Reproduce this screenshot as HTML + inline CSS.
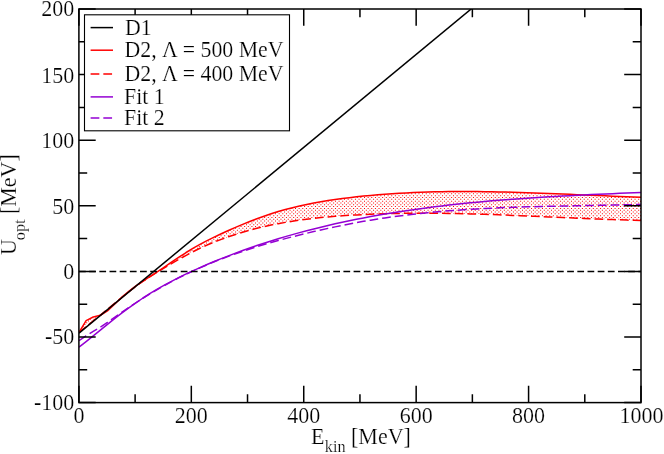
<!DOCTYPE html>
<html><head><meta charset="utf-8"><title>plot</title>
<style>
html,body{margin:0;padding:0;background:#fff;}
body{width:664px;height:454px;position:relative;overflow:hidden;font-family:"Liberation Serif",serif;}
svg{position:absolute;left:0;top:0;display:block;will-change:transform;}
.t{font-family:"Liberation Serif",serif;fill:#000;stroke:#fff;stroke-width:0.2px;}
</style></head><body>
<svg width="664" height="454" viewBox="0 0 664 454"><defs><pattern id="stip" patternUnits="userSpaceOnUse" x="0.00" y="0.00" width="69" height="69"><g fill="#ff0000"><path d="M-0.98,-0.93h1.0v1.0h-1.0zM-0.98,2.70h1.0v1.0h-1.0zM-0.98,6.34h1.0v1.0h-1.0zM-0.98,9.97h1.0v1.0h-1.0zM-0.98,13.60h1.0v1.0h-1.0zM-0.98,17.23h1.0v1.0h-1.0zM-0.98,20.86h1.0v1.0h-1.0zM-0.98,24.50h1.0v1.0h-1.0zM-0.98,28.13h1.0v1.0h-1.0zM-0.98,31.76h1.0v1.0h-1.0zM-0.98,35.39h1.0v1.0h-1.0zM-0.98,39.02h1.0v1.0h-1.0zM-0.98,42.66h1.0v1.0h-1.0zM-0.98,46.29h1.0v1.0h-1.0zM-0.98,49.92h1.0v1.0h-1.0zM-0.98,53.55h1.0v1.0h-1.0zM-0.98,57.18h1.0v1.0h-1.0zM-0.98,60.82h1.0v1.0h-1.0zM-0.98,64.45h1.0v1.0h-1.0zM-0.98,68.08h1.0v1.0h-1.0zM2.66,-0.93h1.0v1.0h-1.0zM0.84,0.89h1.0v1.0h-1.0zM2.66,2.70h1.0v1.0h-1.0zM0.84,4.52h1.0v1.0h-1.0zM2.66,6.34h1.0v1.0h-1.0zM0.84,8.15h1.0v1.0h-1.0zM2.66,9.97h1.0v1.0h-1.0zM0.84,11.78h1.0v1.0h-1.0zM2.66,13.60h1.0v1.0h-1.0zM0.84,15.42h1.0v1.0h-1.0zM2.66,17.23h1.0v1.0h-1.0zM0.84,19.05h1.0v1.0h-1.0zM2.66,20.86h1.0v1.0h-1.0zM0.84,22.68h1.0v1.0h-1.0zM2.66,24.50h1.0v1.0h-1.0zM0.84,26.31h1.0v1.0h-1.0zM2.66,28.13h1.0v1.0h-1.0zM0.84,29.94h1.0v1.0h-1.0zM2.66,31.76h1.0v1.0h-1.0zM0.84,33.58h1.0v1.0h-1.0zM2.66,35.39h1.0v1.0h-1.0zM0.84,37.21h1.0v1.0h-1.0zM2.66,39.02h1.0v1.0h-1.0zM0.84,40.84h1.0v1.0h-1.0zM2.66,42.66h1.0v1.0h-1.0zM0.84,44.47h1.0v1.0h-1.0zM2.66,46.29h1.0v1.0h-1.0zM0.84,48.10h1.0v1.0h-1.0zM2.66,49.92h1.0v1.0h-1.0zM0.84,51.74h1.0v1.0h-1.0zM2.66,53.55h1.0v1.0h-1.0zM0.84,55.37h1.0v1.0h-1.0zM2.66,57.18h1.0v1.0h-1.0zM0.84,59.00h1.0v1.0h-1.0zM2.66,60.82h1.0v1.0h-1.0zM0.84,62.63h1.0v1.0h-1.0zM2.66,64.45h1.0v1.0h-1.0zM0.84,66.26h1.0v1.0h-1.0zM2.66,68.08h1.0v1.0h-1.0zM6.29,-0.93h1.0v1.0h-1.0zM4.47,0.89h1.0v1.0h-1.0zM6.29,2.70h1.0v1.0h-1.0zM4.47,4.52h1.0v1.0h-1.0zM6.29,6.34h1.0v1.0h-1.0zM4.47,8.15h1.0v1.0h-1.0zM6.29,9.97h1.0v1.0h-1.0zM4.47,11.78h1.0v1.0h-1.0zM6.29,13.60h1.0v1.0h-1.0zM4.47,15.42h1.0v1.0h-1.0zM6.29,17.23h1.0v1.0h-1.0zM4.47,19.05h1.0v1.0h-1.0zM6.29,20.86h1.0v1.0h-1.0zM4.47,22.68h1.0v1.0h-1.0zM6.29,24.50h1.0v1.0h-1.0zM4.47,26.31h1.0v1.0h-1.0zM6.29,28.13h1.0v1.0h-1.0zM4.47,29.94h1.0v1.0h-1.0zM6.29,31.76h1.0v1.0h-1.0zM4.47,33.58h1.0v1.0h-1.0zM6.29,35.39h1.0v1.0h-1.0zM4.47,37.21h1.0v1.0h-1.0zM6.29,39.02h1.0v1.0h-1.0zM4.47,40.84h1.0v1.0h-1.0zM6.29,42.66h1.0v1.0h-1.0zM4.47,44.47h1.0v1.0h-1.0zM6.29,46.29h1.0v1.0h-1.0zM4.47,48.10h1.0v1.0h-1.0zM6.29,49.92h1.0v1.0h-1.0zM4.47,51.74h1.0v1.0h-1.0zM6.29,53.55h1.0v1.0h-1.0zM4.47,55.37h1.0v1.0h-1.0zM6.29,57.18h1.0v1.0h-1.0zM4.47,59.00h1.0v1.0h-1.0zM6.29,60.82h1.0v1.0h-1.0zM4.47,62.63h1.0v1.0h-1.0zM6.29,64.45h1.0v1.0h-1.0zM4.47,66.26h1.0v1.0h-1.0zM6.29,68.08h1.0v1.0h-1.0zM9.92,-0.93h1.0v1.0h-1.0zM8.10,0.89h1.0v1.0h-1.0zM9.92,2.70h1.0v1.0h-1.0zM8.10,4.52h1.0v1.0h-1.0zM9.92,6.34h1.0v1.0h-1.0zM8.10,8.15h1.0v1.0h-1.0zM9.92,9.97h1.0v1.0h-1.0zM8.10,11.78h1.0v1.0h-1.0zM9.92,13.60h1.0v1.0h-1.0zM8.10,15.42h1.0v1.0h-1.0zM9.92,17.23h1.0v1.0h-1.0zM8.10,19.05h1.0v1.0h-1.0zM9.92,20.86h1.0v1.0h-1.0zM8.10,22.68h1.0v1.0h-1.0zM9.92,24.50h1.0v1.0h-1.0zM8.10,26.31h1.0v1.0h-1.0zM9.92,28.13h1.0v1.0h-1.0zM8.10,29.94h1.0v1.0h-1.0zM9.92,31.76h1.0v1.0h-1.0zM8.10,33.58h1.0v1.0h-1.0zM9.92,35.39h1.0v1.0h-1.0zM8.10,37.21h1.0v1.0h-1.0zM9.92,39.02h1.0v1.0h-1.0zM8.10,40.84h1.0v1.0h-1.0zM9.92,42.66h1.0v1.0h-1.0zM8.10,44.47h1.0v1.0h-1.0zM9.92,46.29h1.0v1.0h-1.0zM8.10,48.10h1.0v1.0h-1.0zM9.92,49.92h1.0v1.0h-1.0zM8.10,51.74h1.0v1.0h-1.0zM9.92,53.55h1.0v1.0h-1.0zM8.10,55.37h1.0v1.0h-1.0zM9.92,57.18h1.0v1.0h-1.0zM8.10,59.00h1.0v1.0h-1.0zM9.92,60.82h1.0v1.0h-1.0zM8.10,62.63h1.0v1.0h-1.0zM9.92,64.45h1.0v1.0h-1.0zM8.10,66.26h1.0v1.0h-1.0zM9.92,68.08h1.0v1.0h-1.0zM13.55,-0.93h1.0v1.0h-1.0zM11.74,0.89h1.0v1.0h-1.0zM13.55,2.70h1.0v1.0h-1.0zM11.74,4.52h1.0v1.0h-1.0zM13.55,6.34h1.0v1.0h-1.0zM11.74,8.15h1.0v1.0h-1.0zM13.55,9.97h1.0v1.0h-1.0zM11.74,11.78h1.0v1.0h-1.0zM13.55,13.60h1.0v1.0h-1.0zM11.74,15.42h1.0v1.0h-1.0zM13.55,17.23h1.0v1.0h-1.0zM11.74,19.05h1.0v1.0h-1.0zM13.55,20.86h1.0v1.0h-1.0zM11.74,22.68h1.0v1.0h-1.0zM13.55,24.50h1.0v1.0h-1.0zM11.74,26.31h1.0v1.0h-1.0zM13.55,28.13h1.0v1.0h-1.0zM11.74,29.94h1.0v1.0h-1.0zM13.55,31.76h1.0v1.0h-1.0zM11.74,33.58h1.0v1.0h-1.0zM13.55,35.39h1.0v1.0h-1.0zM11.74,37.21h1.0v1.0h-1.0zM13.55,39.02h1.0v1.0h-1.0zM11.74,40.84h1.0v1.0h-1.0zM13.55,42.66h1.0v1.0h-1.0zM11.74,44.47h1.0v1.0h-1.0zM13.55,46.29h1.0v1.0h-1.0zM11.74,48.10h1.0v1.0h-1.0zM13.55,49.92h1.0v1.0h-1.0zM11.74,51.74h1.0v1.0h-1.0zM13.55,53.55h1.0v1.0h-1.0zM11.74,55.37h1.0v1.0h-1.0zM13.55,57.18h1.0v1.0h-1.0zM11.74,59.00h1.0v1.0h-1.0zM13.55,60.82h1.0v1.0h-1.0zM11.74,62.63h1.0v1.0h-1.0zM13.55,64.45h1.0v1.0h-1.0zM11.74,66.26h1.0v1.0h-1.0zM13.55,68.08h1.0v1.0h-1.0zM17.18,-0.93h1.0v1.0h-1.0zM15.37,0.89h1.0v1.0h-1.0zM17.18,2.70h1.0v1.0h-1.0zM15.37,4.52h1.0v1.0h-1.0zM17.18,6.34h1.0v1.0h-1.0zM15.37,8.15h1.0v1.0h-1.0zM17.18,9.97h1.0v1.0h-1.0zM15.37,11.78h1.0v1.0h-1.0zM17.18,13.60h1.0v1.0h-1.0zM15.37,15.42h1.0v1.0h-1.0zM17.18,17.23h1.0v1.0h-1.0zM15.37,19.05h1.0v1.0h-1.0zM17.18,20.86h1.0v1.0h-1.0zM15.37,22.68h1.0v1.0h-1.0zM17.18,24.50h1.0v1.0h-1.0zM15.37,26.31h1.0v1.0h-1.0zM17.18,28.13h1.0v1.0h-1.0zM15.37,29.94h1.0v1.0h-1.0zM17.18,31.76h1.0v1.0h-1.0zM15.37,33.58h1.0v1.0h-1.0zM17.18,35.39h1.0v1.0h-1.0zM15.37,37.21h1.0v1.0h-1.0zM17.18,39.02h1.0v1.0h-1.0zM15.37,40.84h1.0v1.0h-1.0zM17.18,42.66h1.0v1.0h-1.0zM15.37,44.47h1.0v1.0h-1.0zM17.18,46.29h1.0v1.0h-1.0zM15.37,48.10h1.0v1.0h-1.0zM17.18,49.92h1.0v1.0h-1.0zM15.37,51.74h1.0v1.0h-1.0zM17.18,53.55h1.0v1.0h-1.0zM15.37,55.37h1.0v1.0h-1.0zM17.18,57.18h1.0v1.0h-1.0zM15.37,59.00h1.0v1.0h-1.0zM17.18,60.82h1.0v1.0h-1.0zM15.37,62.63h1.0v1.0h-1.0zM17.18,64.45h1.0v1.0h-1.0zM15.37,66.26h1.0v1.0h-1.0zM17.18,68.08h1.0v1.0h-1.0zM20.82,-0.93h1.0v1.0h-1.0zM19.00,0.89h1.0v1.0h-1.0zM20.82,2.70h1.0v1.0h-1.0zM19.00,4.52h1.0v1.0h-1.0zM20.82,6.34h1.0v1.0h-1.0zM19.00,8.15h1.0v1.0h-1.0zM20.82,9.97h1.0v1.0h-1.0zM19.00,11.78h1.0v1.0h-1.0zM20.82,13.60h1.0v1.0h-1.0zM19.00,15.42h1.0v1.0h-1.0zM20.82,17.23h1.0v1.0h-1.0zM19.00,19.05h1.0v1.0h-1.0zM20.82,20.86h1.0v1.0h-1.0zM19.00,22.68h1.0v1.0h-1.0zM20.82,24.50h1.0v1.0h-1.0zM19.00,26.31h1.0v1.0h-1.0zM20.82,28.13h1.0v1.0h-1.0zM19.00,29.94h1.0v1.0h-1.0zM20.82,31.76h1.0v1.0h-1.0zM19.00,33.58h1.0v1.0h-1.0zM20.82,35.39h1.0v1.0h-1.0zM19.00,37.21h1.0v1.0h-1.0zM20.82,39.02h1.0v1.0h-1.0zM19.00,40.84h1.0v1.0h-1.0zM20.82,42.66h1.0v1.0h-1.0zM19.00,44.47h1.0v1.0h-1.0zM20.82,46.29h1.0v1.0h-1.0zM19.00,48.10h1.0v1.0h-1.0zM20.82,49.92h1.0v1.0h-1.0zM19.00,51.74h1.0v1.0h-1.0zM20.82,53.55h1.0v1.0h-1.0zM19.00,55.37h1.0v1.0h-1.0zM20.82,57.18h1.0v1.0h-1.0zM19.00,59.00h1.0v1.0h-1.0zM20.82,60.82h1.0v1.0h-1.0zM19.00,62.63h1.0v1.0h-1.0zM20.82,64.45h1.0v1.0h-1.0zM19.00,66.26h1.0v1.0h-1.0zM20.82,68.08h1.0v1.0h-1.0zM24.45,-0.93h1.0v1.0h-1.0zM22.63,0.89h1.0v1.0h-1.0zM24.45,2.70h1.0v1.0h-1.0zM22.63,4.52h1.0v1.0h-1.0zM24.45,6.34h1.0v1.0h-1.0zM22.63,8.15h1.0v1.0h-1.0zM24.45,9.97h1.0v1.0h-1.0zM22.63,11.78h1.0v1.0h-1.0zM24.45,13.60h1.0v1.0h-1.0zM22.63,15.42h1.0v1.0h-1.0zM24.45,17.23h1.0v1.0h-1.0zM22.63,19.05h1.0v1.0h-1.0zM24.45,20.86h1.0v1.0h-1.0zM22.63,22.68h1.0v1.0h-1.0zM24.45,24.50h1.0v1.0h-1.0zM22.63,26.31h1.0v1.0h-1.0zM24.45,28.13h1.0v1.0h-1.0zM22.63,29.94h1.0v1.0h-1.0zM24.45,31.76h1.0v1.0h-1.0zM22.63,33.58h1.0v1.0h-1.0zM24.45,35.39h1.0v1.0h-1.0zM22.63,37.21h1.0v1.0h-1.0zM24.45,39.02h1.0v1.0h-1.0zM22.63,40.84h1.0v1.0h-1.0zM24.45,42.66h1.0v1.0h-1.0zM22.63,44.47h1.0v1.0h-1.0zM24.45,46.29h1.0v1.0h-1.0zM22.63,48.10h1.0v1.0h-1.0zM24.45,49.92h1.0v1.0h-1.0zM22.63,51.74h1.0v1.0h-1.0zM24.45,53.55h1.0v1.0h-1.0zM22.63,55.37h1.0v1.0h-1.0zM24.45,57.18h1.0v1.0h-1.0zM22.63,59.00h1.0v1.0h-1.0zM24.45,60.82h1.0v1.0h-1.0zM22.63,62.63h1.0v1.0h-1.0zM24.45,64.45h1.0v1.0h-1.0zM22.63,66.26h1.0v1.0h-1.0zM24.45,68.08h1.0v1.0h-1.0zM28.08,-0.93h1.0v1.0h-1.0zM26.26,0.89h1.0v1.0h-1.0zM28.08,2.70h1.0v1.0h-1.0zM26.26,4.52h1.0v1.0h-1.0zM28.08,6.34h1.0v1.0h-1.0zM26.26,8.15h1.0v1.0h-1.0zM28.08,9.97h1.0v1.0h-1.0zM26.26,11.78h1.0v1.0h-1.0zM28.08,13.60h1.0v1.0h-1.0zM26.26,15.42h1.0v1.0h-1.0zM28.08,17.23h1.0v1.0h-1.0zM26.26,19.05h1.0v1.0h-1.0zM28.08,20.86h1.0v1.0h-1.0zM26.26,22.68h1.0v1.0h-1.0zM28.08,24.50h1.0v1.0h-1.0zM26.26,26.31h1.0v1.0h-1.0zM28.08,28.13h1.0v1.0h-1.0zM26.26,29.94h1.0v1.0h-1.0zM28.08,31.76h1.0v1.0h-1.0zM26.26,33.58h1.0v1.0h-1.0zM28.08,35.39h1.0v1.0h-1.0zM26.26,37.21h1.0v1.0h-1.0zM28.08,39.02h1.0v1.0h-1.0zM26.26,40.84h1.0v1.0h-1.0zM28.08,42.66h1.0v1.0h-1.0zM26.26,44.47h1.0v1.0h-1.0zM28.08,46.29h1.0v1.0h-1.0zM26.26,48.10h1.0v1.0h-1.0zM28.08,49.92h1.0v1.0h-1.0zM26.26,51.74h1.0v1.0h-1.0zM28.08,53.55h1.0v1.0h-1.0zM26.26,55.37h1.0v1.0h-1.0zM28.08,57.18h1.0v1.0h-1.0zM26.26,59.00h1.0v1.0h-1.0zM28.08,60.82h1.0v1.0h-1.0zM26.26,62.63h1.0v1.0h-1.0zM28.08,64.45h1.0v1.0h-1.0zM26.26,66.26h1.0v1.0h-1.0zM28.08,68.08h1.0v1.0h-1.0zM31.71,-0.93h1.0v1.0h-1.0zM29.90,0.89h1.0v1.0h-1.0zM31.71,2.70h1.0v1.0h-1.0zM29.90,4.52h1.0v1.0h-1.0zM31.71,6.34h1.0v1.0h-1.0zM29.90,8.15h1.0v1.0h-1.0zM31.71,9.97h1.0v1.0h-1.0zM29.90,11.78h1.0v1.0h-1.0zM31.71,13.60h1.0v1.0h-1.0zM29.90,15.42h1.0v1.0h-1.0zM31.71,17.23h1.0v1.0h-1.0zM29.90,19.05h1.0v1.0h-1.0zM31.71,20.86h1.0v1.0h-1.0zM29.90,22.68h1.0v1.0h-1.0zM31.71,24.50h1.0v1.0h-1.0zM29.90,26.31h1.0v1.0h-1.0zM31.71,28.13h1.0v1.0h-1.0zM29.90,29.94h1.0v1.0h-1.0zM31.71,31.76h1.0v1.0h-1.0zM29.90,33.58h1.0v1.0h-1.0zM31.71,35.39h1.0v1.0h-1.0zM29.90,37.21h1.0v1.0h-1.0zM31.71,39.02h1.0v1.0h-1.0zM29.90,40.84h1.0v1.0h-1.0zM31.71,42.66h1.0v1.0h-1.0zM29.90,44.47h1.0v1.0h-1.0zM31.71,46.29h1.0v1.0h-1.0zM29.90,48.10h1.0v1.0h-1.0zM31.71,49.92h1.0v1.0h-1.0zM29.90,51.74h1.0v1.0h-1.0zM31.71,53.55h1.0v1.0h-1.0zM29.90,55.37h1.0v1.0h-1.0zM31.71,57.18h1.0v1.0h-1.0zM29.90,59.00h1.0v1.0h-1.0zM31.71,60.82h1.0v1.0h-1.0zM29.90,62.63h1.0v1.0h-1.0zM31.71,64.45h1.0v1.0h-1.0zM29.90,66.26h1.0v1.0h-1.0zM31.71,68.08h1.0v1.0h-1.0zM35.34,-0.93h1.0v1.0h-1.0zM33.53,0.89h1.0v1.0h-1.0zM35.34,2.70h1.0v1.0h-1.0zM33.53,4.52h1.0v1.0h-1.0zM35.34,6.34h1.0v1.0h-1.0zM33.53,8.15h1.0v1.0h-1.0zM35.34,9.97h1.0v1.0h-1.0zM33.53,11.78h1.0v1.0h-1.0zM35.34,13.60h1.0v1.0h-1.0zM33.53,15.42h1.0v1.0h-1.0zM35.34,17.23h1.0v1.0h-1.0zM33.53,19.05h1.0v1.0h-1.0zM35.34,20.86h1.0v1.0h-1.0zM33.53,22.68h1.0v1.0h-1.0zM35.34,24.50h1.0v1.0h-1.0zM33.53,26.31h1.0v1.0h-1.0zM35.34,28.13h1.0v1.0h-1.0zM33.53,29.94h1.0v1.0h-1.0zM35.34,31.76h1.0v1.0h-1.0zM33.53,33.58h1.0v1.0h-1.0zM35.34,35.39h1.0v1.0h-1.0zM33.53,37.21h1.0v1.0h-1.0zM35.34,39.02h1.0v1.0h-1.0zM33.53,40.84h1.0v1.0h-1.0zM35.34,42.66h1.0v1.0h-1.0zM33.53,44.47h1.0v1.0h-1.0zM35.34,46.29h1.0v1.0h-1.0zM33.53,48.10h1.0v1.0h-1.0zM35.34,49.92h1.0v1.0h-1.0zM33.53,51.74h1.0v1.0h-1.0zM35.34,53.55h1.0v1.0h-1.0zM33.53,55.37h1.0v1.0h-1.0zM35.34,57.18h1.0v1.0h-1.0zM33.53,59.00h1.0v1.0h-1.0zM35.34,60.82h1.0v1.0h-1.0zM33.53,62.63h1.0v1.0h-1.0zM35.34,64.45h1.0v1.0h-1.0zM33.53,66.26h1.0v1.0h-1.0zM35.34,68.08h1.0v1.0h-1.0zM38.98,-0.93h1.0v1.0h-1.0zM37.16,0.89h1.0v1.0h-1.0zM38.98,2.70h1.0v1.0h-1.0zM37.16,4.52h1.0v1.0h-1.0zM38.98,6.34h1.0v1.0h-1.0zM37.16,8.15h1.0v1.0h-1.0zM38.98,9.97h1.0v1.0h-1.0zM37.16,11.78h1.0v1.0h-1.0zM38.98,13.60h1.0v1.0h-1.0zM37.16,15.42h1.0v1.0h-1.0zM38.98,17.23h1.0v1.0h-1.0zM37.16,19.05h1.0v1.0h-1.0zM38.98,20.86h1.0v1.0h-1.0zM37.16,22.68h1.0v1.0h-1.0zM38.98,24.50h1.0v1.0h-1.0zM37.16,26.31h1.0v1.0h-1.0zM38.98,28.13h1.0v1.0h-1.0zM37.16,29.94h1.0v1.0h-1.0zM38.98,31.76h1.0v1.0h-1.0zM37.16,33.58h1.0v1.0h-1.0zM38.98,35.39h1.0v1.0h-1.0zM37.16,37.21h1.0v1.0h-1.0zM38.98,39.02h1.0v1.0h-1.0zM37.16,40.84h1.0v1.0h-1.0zM38.98,42.66h1.0v1.0h-1.0zM37.16,44.47h1.0v1.0h-1.0zM38.98,46.29h1.0v1.0h-1.0zM37.16,48.10h1.0v1.0h-1.0zM38.98,49.92h1.0v1.0h-1.0zM37.16,51.74h1.0v1.0h-1.0zM38.98,53.55h1.0v1.0h-1.0zM37.16,55.37h1.0v1.0h-1.0zM38.98,57.18h1.0v1.0h-1.0zM37.16,59.00h1.0v1.0h-1.0zM38.98,60.82h1.0v1.0h-1.0zM37.16,62.63h1.0v1.0h-1.0zM38.98,64.45h1.0v1.0h-1.0zM37.16,66.26h1.0v1.0h-1.0zM38.98,68.08h1.0v1.0h-1.0zM42.61,-0.93h1.0v1.0h-1.0zM40.79,0.89h1.0v1.0h-1.0zM42.61,2.70h1.0v1.0h-1.0zM40.79,4.52h1.0v1.0h-1.0zM42.61,6.34h1.0v1.0h-1.0zM40.79,8.15h1.0v1.0h-1.0zM42.61,9.97h1.0v1.0h-1.0zM40.79,11.78h1.0v1.0h-1.0zM42.61,13.60h1.0v1.0h-1.0zM40.79,15.42h1.0v1.0h-1.0zM42.61,17.23h1.0v1.0h-1.0zM40.79,19.05h1.0v1.0h-1.0zM42.61,20.86h1.0v1.0h-1.0zM40.79,22.68h1.0v1.0h-1.0zM42.61,24.50h1.0v1.0h-1.0zM40.79,26.31h1.0v1.0h-1.0zM42.61,28.13h1.0v1.0h-1.0zM40.79,29.94h1.0v1.0h-1.0zM42.61,31.76h1.0v1.0h-1.0zM40.79,33.58h1.0v1.0h-1.0zM42.61,35.39h1.0v1.0h-1.0zM40.79,37.21h1.0v1.0h-1.0zM42.61,39.02h1.0v1.0h-1.0zM40.79,40.84h1.0v1.0h-1.0zM42.61,42.66h1.0v1.0h-1.0zM40.79,44.47h1.0v1.0h-1.0zM42.61,46.29h1.0v1.0h-1.0zM40.79,48.10h1.0v1.0h-1.0zM42.61,49.92h1.0v1.0h-1.0zM40.79,51.74h1.0v1.0h-1.0zM42.61,53.55h1.0v1.0h-1.0zM40.79,55.37h1.0v1.0h-1.0zM42.61,57.18h1.0v1.0h-1.0zM40.79,59.00h1.0v1.0h-1.0zM42.61,60.82h1.0v1.0h-1.0zM40.79,62.63h1.0v1.0h-1.0zM42.61,64.45h1.0v1.0h-1.0zM40.79,66.26h1.0v1.0h-1.0zM42.61,68.08h1.0v1.0h-1.0zM46.24,-0.93h1.0v1.0h-1.0zM44.42,0.89h1.0v1.0h-1.0zM46.24,2.70h1.0v1.0h-1.0zM44.42,4.52h1.0v1.0h-1.0zM46.24,6.34h1.0v1.0h-1.0zM44.42,8.15h1.0v1.0h-1.0zM46.24,9.97h1.0v1.0h-1.0zM44.42,11.78h1.0v1.0h-1.0zM46.24,13.60h1.0v1.0h-1.0zM44.42,15.42h1.0v1.0h-1.0zM46.24,17.23h1.0v1.0h-1.0zM44.42,19.05h1.0v1.0h-1.0zM46.24,20.86h1.0v1.0h-1.0zM44.42,22.68h1.0v1.0h-1.0zM46.24,24.50h1.0v1.0h-1.0zM44.42,26.31h1.0v1.0h-1.0zM46.24,28.13h1.0v1.0h-1.0zM44.42,29.94h1.0v1.0h-1.0zM46.24,31.76h1.0v1.0h-1.0zM44.42,33.58h1.0v1.0h-1.0zM46.24,35.39h1.0v1.0h-1.0zM44.42,37.21h1.0v1.0h-1.0zM46.24,39.02h1.0v1.0h-1.0zM44.42,40.84h1.0v1.0h-1.0zM46.24,42.66h1.0v1.0h-1.0zM44.42,44.47h1.0v1.0h-1.0zM46.24,46.29h1.0v1.0h-1.0zM44.42,48.10h1.0v1.0h-1.0zM46.24,49.92h1.0v1.0h-1.0zM44.42,51.74h1.0v1.0h-1.0zM46.24,53.55h1.0v1.0h-1.0zM44.42,55.37h1.0v1.0h-1.0zM46.24,57.18h1.0v1.0h-1.0zM44.42,59.00h1.0v1.0h-1.0zM46.24,60.82h1.0v1.0h-1.0zM44.42,62.63h1.0v1.0h-1.0zM46.24,64.45h1.0v1.0h-1.0zM44.42,66.26h1.0v1.0h-1.0zM46.24,68.08h1.0v1.0h-1.0zM49.87,-0.93h1.0v1.0h-1.0zM48.06,0.89h1.0v1.0h-1.0zM49.87,2.70h1.0v1.0h-1.0zM48.06,4.52h1.0v1.0h-1.0zM49.87,6.34h1.0v1.0h-1.0zM48.06,8.15h1.0v1.0h-1.0zM49.87,9.97h1.0v1.0h-1.0zM48.06,11.78h1.0v1.0h-1.0zM49.87,13.60h1.0v1.0h-1.0zM48.06,15.42h1.0v1.0h-1.0zM49.87,17.23h1.0v1.0h-1.0zM48.06,19.05h1.0v1.0h-1.0zM49.87,20.86h1.0v1.0h-1.0zM48.06,22.68h1.0v1.0h-1.0zM49.87,24.50h1.0v1.0h-1.0zM48.06,26.31h1.0v1.0h-1.0zM49.87,28.13h1.0v1.0h-1.0zM48.06,29.94h1.0v1.0h-1.0zM49.87,31.76h1.0v1.0h-1.0zM48.06,33.58h1.0v1.0h-1.0zM49.87,35.39h1.0v1.0h-1.0zM48.06,37.21h1.0v1.0h-1.0zM49.87,39.02h1.0v1.0h-1.0zM48.06,40.84h1.0v1.0h-1.0zM49.87,42.66h1.0v1.0h-1.0zM48.06,44.47h1.0v1.0h-1.0zM49.87,46.29h1.0v1.0h-1.0zM48.06,48.10h1.0v1.0h-1.0zM49.87,49.92h1.0v1.0h-1.0zM48.06,51.74h1.0v1.0h-1.0zM49.87,53.55h1.0v1.0h-1.0zM48.06,55.37h1.0v1.0h-1.0zM49.87,57.18h1.0v1.0h-1.0zM48.06,59.00h1.0v1.0h-1.0zM49.87,60.82h1.0v1.0h-1.0zM48.06,62.63h1.0v1.0h-1.0zM49.87,64.45h1.0v1.0h-1.0zM48.06,66.26h1.0v1.0h-1.0zM49.87,68.08h1.0v1.0h-1.0zM53.50,-0.93h1.0v1.0h-1.0zM51.69,0.89h1.0v1.0h-1.0zM53.50,2.70h1.0v1.0h-1.0zM51.69,4.52h1.0v1.0h-1.0zM53.50,6.34h1.0v1.0h-1.0zM51.69,8.15h1.0v1.0h-1.0zM53.50,9.97h1.0v1.0h-1.0zM51.69,11.78h1.0v1.0h-1.0zM53.50,13.60h1.0v1.0h-1.0zM51.69,15.42h1.0v1.0h-1.0zM53.50,17.23h1.0v1.0h-1.0zM51.69,19.05h1.0v1.0h-1.0zM53.50,20.86h1.0v1.0h-1.0zM51.69,22.68h1.0v1.0h-1.0zM53.50,24.50h1.0v1.0h-1.0zM51.69,26.31h1.0v1.0h-1.0zM53.50,28.13h1.0v1.0h-1.0zM51.69,29.94h1.0v1.0h-1.0zM53.50,31.76h1.0v1.0h-1.0zM51.69,33.58h1.0v1.0h-1.0zM53.50,35.39h1.0v1.0h-1.0zM51.69,37.21h1.0v1.0h-1.0zM53.50,39.02h1.0v1.0h-1.0zM51.69,40.84h1.0v1.0h-1.0zM53.50,42.66h1.0v1.0h-1.0zM51.69,44.47h1.0v1.0h-1.0zM53.50,46.29h1.0v1.0h-1.0zM51.69,48.10h1.0v1.0h-1.0zM53.50,49.92h1.0v1.0h-1.0zM51.69,51.74h1.0v1.0h-1.0zM53.50,53.55h1.0v1.0h-1.0zM51.69,55.37h1.0v1.0h-1.0zM53.50,57.18h1.0v1.0h-1.0zM51.69,59.00h1.0v1.0h-1.0zM53.50,60.82h1.0v1.0h-1.0zM51.69,62.63h1.0v1.0h-1.0zM53.50,64.45h1.0v1.0h-1.0zM51.69,66.26h1.0v1.0h-1.0zM53.50,68.08h1.0v1.0h-1.0zM57.14,-0.93h1.0v1.0h-1.0zM55.32,0.89h1.0v1.0h-1.0zM57.14,2.70h1.0v1.0h-1.0zM55.32,4.52h1.0v1.0h-1.0zM57.14,6.34h1.0v1.0h-1.0zM55.32,8.15h1.0v1.0h-1.0zM57.14,9.97h1.0v1.0h-1.0zM55.32,11.78h1.0v1.0h-1.0zM57.14,13.60h1.0v1.0h-1.0zM55.32,15.42h1.0v1.0h-1.0zM57.14,17.23h1.0v1.0h-1.0zM55.32,19.05h1.0v1.0h-1.0zM57.14,20.86h1.0v1.0h-1.0zM55.32,22.68h1.0v1.0h-1.0zM57.14,24.50h1.0v1.0h-1.0zM55.32,26.31h1.0v1.0h-1.0zM57.14,28.13h1.0v1.0h-1.0zM55.32,29.94h1.0v1.0h-1.0zM57.14,31.76h1.0v1.0h-1.0zM55.32,33.58h1.0v1.0h-1.0zM57.14,35.39h1.0v1.0h-1.0zM55.32,37.21h1.0v1.0h-1.0zM57.14,39.02h1.0v1.0h-1.0zM55.32,40.84h1.0v1.0h-1.0zM57.14,42.66h1.0v1.0h-1.0zM55.32,44.47h1.0v1.0h-1.0zM57.14,46.29h1.0v1.0h-1.0zM55.32,48.10h1.0v1.0h-1.0zM57.14,49.92h1.0v1.0h-1.0zM55.32,51.74h1.0v1.0h-1.0zM57.14,53.55h1.0v1.0h-1.0zM55.32,55.37h1.0v1.0h-1.0zM57.14,57.18h1.0v1.0h-1.0zM55.32,59.00h1.0v1.0h-1.0zM57.14,60.82h1.0v1.0h-1.0zM55.32,62.63h1.0v1.0h-1.0zM57.14,64.45h1.0v1.0h-1.0zM55.32,66.26h1.0v1.0h-1.0zM57.14,68.08h1.0v1.0h-1.0zM60.77,-0.93h1.0v1.0h-1.0zM58.95,0.89h1.0v1.0h-1.0zM60.77,2.70h1.0v1.0h-1.0zM58.95,4.52h1.0v1.0h-1.0zM60.77,6.34h1.0v1.0h-1.0zM58.95,8.15h1.0v1.0h-1.0zM60.77,9.97h1.0v1.0h-1.0zM58.95,11.78h1.0v1.0h-1.0zM60.77,13.60h1.0v1.0h-1.0zM58.95,15.42h1.0v1.0h-1.0zM60.77,17.23h1.0v1.0h-1.0zM58.95,19.05h1.0v1.0h-1.0zM60.77,20.86h1.0v1.0h-1.0zM58.95,22.68h1.0v1.0h-1.0zM60.77,24.50h1.0v1.0h-1.0zM58.95,26.31h1.0v1.0h-1.0zM60.77,28.13h1.0v1.0h-1.0zM58.95,29.94h1.0v1.0h-1.0zM60.77,31.76h1.0v1.0h-1.0zM58.95,33.58h1.0v1.0h-1.0zM60.77,35.39h1.0v1.0h-1.0zM58.95,37.21h1.0v1.0h-1.0zM60.77,39.02h1.0v1.0h-1.0zM58.95,40.84h1.0v1.0h-1.0zM60.77,42.66h1.0v1.0h-1.0zM58.95,44.47h1.0v1.0h-1.0zM60.77,46.29h1.0v1.0h-1.0zM58.95,48.10h1.0v1.0h-1.0zM60.77,49.92h1.0v1.0h-1.0zM58.95,51.74h1.0v1.0h-1.0zM60.77,53.55h1.0v1.0h-1.0zM58.95,55.37h1.0v1.0h-1.0zM60.77,57.18h1.0v1.0h-1.0zM58.95,59.00h1.0v1.0h-1.0zM60.77,60.82h1.0v1.0h-1.0zM58.95,62.63h1.0v1.0h-1.0zM60.77,64.45h1.0v1.0h-1.0zM58.95,66.26h1.0v1.0h-1.0zM60.77,68.08h1.0v1.0h-1.0zM64.40,-0.93h1.0v1.0h-1.0zM62.58,0.89h1.0v1.0h-1.0zM64.40,2.70h1.0v1.0h-1.0zM62.58,4.52h1.0v1.0h-1.0zM64.40,6.34h1.0v1.0h-1.0zM62.58,8.15h1.0v1.0h-1.0zM64.40,9.97h1.0v1.0h-1.0zM62.58,11.78h1.0v1.0h-1.0zM64.40,13.60h1.0v1.0h-1.0zM62.58,15.42h1.0v1.0h-1.0zM64.40,17.23h1.0v1.0h-1.0zM62.58,19.05h1.0v1.0h-1.0zM64.40,20.86h1.0v1.0h-1.0zM62.58,22.68h1.0v1.0h-1.0zM64.40,24.50h1.0v1.0h-1.0zM62.58,26.31h1.0v1.0h-1.0zM64.40,28.13h1.0v1.0h-1.0zM62.58,29.94h1.0v1.0h-1.0zM64.40,31.76h1.0v1.0h-1.0zM62.58,33.58h1.0v1.0h-1.0zM64.40,35.39h1.0v1.0h-1.0zM62.58,37.21h1.0v1.0h-1.0zM64.40,39.02h1.0v1.0h-1.0zM62.58,40.84h1.0v1.0h-1.0zM64.40,42.66h1.0v1.0h-1.0zM62.58,44.47h1.0v1.0h-1.0zM64.40,46.29h1.0v1.0h-1.0zM62.58,48.10h1.0v1.0h-1.0zM64.40,49.92h1.0v1.0h-1.0zM62.58,51.74h1.0v1.0h-1.0zM64.40,53.55h1.0v1.0h-1.0zM62.58,55.37h1.0v1.0h-1.0zM64.40,57.18h1.0v1.0h-1.0zM62.58,59.00h1.0v1.0h-1.0zM64.40,60.82h1.0v1.0h-1.0zM62.58,62.63h1.0v1.0h-1.0zM64.40,64.45h1.0v1.0h-1.0zM62.58,66.26h1.0v1.0h-1.0zM64.40,68.08h1.0v1.0h-1.0zM68.03,-0.93h1.0v1.0h-1.0zM66.22,0.89h1.0v1.0h-1.0zM68.03,2.70h1.0v1.0h-1.0zM66.22,4.52h1.0v1.0h-1.0zM68.03,6.34h1.0v1.0h-1.0zM66.22,8.15h1.0v1.0h-1.0zM68.03,9.97h1.0v1.0h-1.0zM66.22,11.78h1.0v1.0h-1.0zM68.03,13.60h1.0v1.0h-1.0zM66.22,15.42h1.0v1.0h-1.0zM68.03,17.23h1.0v1.0h-1.0zM66.22,19.05h1.0v1.0h-1.0zM68.03,20.86h1.0v1.0h-1.0zM66.22,22.68h1.0v1.0h-1.0zM68.03,24.50h1.0v1.0h-1.0zM66.22,26.31h1.0v1.0h-1.0zM68.03,28.13h1.0v1.0h-1.0zM66.22,29.94h1.0v1.0h-1.0zM68.03,31.76h1.0v1.0h-1.0zM66.22,33.58h1.0v1.0h-1.0zM68.03,35.39h1.0v1.0h-1.0zM66.22,37.21h1.0v1.0h-1.0zM68.03,39.02h1.0v1.0h-1.0zM66.22,40.84h1.0v1.0h-1.0zM68.03,42.66h1.0v1.0h-1.0zM66.22,44.47h1.0v1.0h-1.0zM68.03,46.29h1.0v1.0h-1.0zM66.22,48.10h1.0v1.0h-1.0zM68.03,49.92h1.0v1.0h-1.0zM66.22,51.74h1.0v1.0h-1.0zM68.03,53.55h1.0v1.0h-1.0zM66.22,55.37h1.0v1.0h-1.0zM68.03,57.18h1.0v1.0h-1.0zM66.22,59.00h1.0v1.0h-1.0zM68.03,60.82h1.0v1.0h-1.0zM66.22,62.63h1.0v1.0h-1.0zM68.03,64.45h1.0v1.0h-1.0zM66.22,66.26h1.0v1.0h-1.0zM68.03,68.08h1.0v1.0h-1.0z"/></g></pattern><clipPath id="plotclip"><rect x="78.9" y="9.0" width="562.1" height="393.6"/></clipPath></defs><rect x="0" y="0" width="664" height="454" fill="#ffffff"/><g clip-path="url(#plotclip)" fill="none" stroke-width="1.5" stroke-linecap="butt" stroke-linejoin="round"><path d="M79.00,332.30 L86.11,320.62 L93.23,317.01 L100.34,315.30 L107.46,310.87 L114.57,304.32 L121.68,297.43 L128.80,291.33 L135.91,285.94 L143.03,281.05 L150.14,276.41 L157.25,271.82 L164.37,267.07 L171.48,262.22 L178.59,257.41 L185.71,252.76 L192.82,248.42 L199.94,244.40 L207.05,240.64 L214.16,237.11 L221.28,233.75 L228.39,230.52 L235.51,227.40 L242.62,224.39 L249.73,221.52 L256.85,218.79 L263.96,216.22 L271.08,213.82 L278.19,211.59 L285.30,209.55 L292.42,207.68 L299.53,205.98 L306.65,204.43 L313.76,203.02 L320.87,201.74 L327.99,200.57 L335.10,199.51 L342.22,198.55 L349.33,197.66 L356.44,196.85 L363.56,196.10 L370.67,195.42 L377.78,194.80 L384.90,194.24 L392.01,193.74 L399.13,193.30 L406.24,192.91 L413.35,192.57 L420.47,192.29 L427.58,192.05 L434.70,191.86 L441.81,191.71 L448.92,191.61 L456.04,191.54 L463.15,191.52 L470.27,191.53 L477.38,191.57 L484.49,191.65 L491.61,191.75 L498.72,191.89 L505.84,192.05 L512.95,192.23 L520.06,192.44 L527.18,192.66 L534.29,192.91 L541.41,193.17 L548.52,193.44 L555.63,193.72 L562.75,194.02 L569.86,194.32 L576.97,194.63 L584.09,194.94 L591.20,195.25 L598.32,195.56 L605.43,195.87 L612.54,196.18 L619.66,196.47 L626.77,196.76 L633.89,197.04 L641.00,197.30 L641.00,220.47 L633.89,220.28 L626.77,220.07 L619.66,219.84 L612.54,219.59 L605.43,219.32 L598.32,219.05 L591.20,218.76 L584.09,218.46 L576.97,218.16 L569.86,217.85 L562.75,217.54 L555.63,217.22 L548.52,216.90 L541.41,216.59 L534.29,216.28 L527.18,215.97 L520.06,215.67 L512.95,215.38 L505.84,215.10 L498.72,214.83 L491.61,214.58 L484.49,214.34 L477.38,214.12 L470.27,213.92 L463.15,213.75 L456.04,213.59 L448.92,213.46 L441.81,213.36 L434.70,213.29 L427.58,213.24 L420.47,213.23 L413.35,213.26 L406.24,213.32 L399.13,213.42 L392.01,213.55 L384.90,213.73 L377.78,213.95 L370.67,214.22 L363.56,214.54 L356.44,214.90 L349.33,215.32 L342.22,215.78 L335.10,216.31 L327.99,216.91 L320.87,217.58 L313.76,218.34 L306.65,219.19 L299.53,220.14 L292.42,221.20 L285.30,222.37 L278.19,223.66 L271.08,225.08 L263.96,226.64 L256.85,228.35 L249.73,230.21 L242.62,232.23 L235.51,234.42 L228.39,236.79 L221.28,239.34 L214.16,242.09 L207.05,245.06 L199.94,248.29 L192.82,251.80 L185.71,255.56 L178.59,259.53 L171.48,263.66 L164.37,267.89 L157.25,272.19 L150.14,276.58 L143.03,281.22 L135.91,286.28 L128.80,291.76 L121.68,297.51 L114.57,303.39 L107.46,309.30 L100.34,315.19 L93.23,321.02 L86.11,326.74 L79.00,332.29 Z" fill="url(#stip)" stroke="none"/><path d="M79.00,332.30 L86.11,320.62 L93.23,317.01 L100.34,315.30 L107.46,310.87 L114.57,304.32 L121.68,297.43 L128.80,291.33 L135.91,285.94 L143.03,281.05 L150.14,276.41 L157.25,271.82 L164.37,267.07 L171.48,262.22 L178.59,257.41 L185.71,252.76 L192.82,248.42 L199.94,244.40 L207.05,240.64 L214.16,237.11 L221.28,233.75 L228.39,230.52 L235.51,227.40 L242.62,224.39 L249.73,221.52 L256.85,218.79 L263.96,216.22 L271.08,213.82 L278.19,211.59 L285.30,209.55 L292.42,207.68 L299.53,205.98 L306.65,204.43 L313.76,203.02 L320.87,201.74 L327.99,200.57 L335.10,199.51 L342.22,198.55 L349.33,197.66 L356.44,196.85 L363.56,196.10 L370.67,195.42 L377.78,194.80 L384.90,194.24 L392.01,193.74 L399.13,193.30 L406.24,192.91 L413.35,192.57 L420.47,192.29 L427.58,192.05 L434.70,191.86 L441.81,191.71 L448.92,191.61 L456.04,191.54 L463.15,191.52 L470.27,191.53 L477.38,191.57 L484.49,191.65 L491.61,191.75 L498.72,191.89 L505.84,192.05 L512.95,192.23 L520.06,192.44 L527.18,192.66 L534.29,192.91 L541.41,193.17 L548.52,193.44 L555.63,193.72 L562.75,194.02 L569.86,194.32 L576.97,194.63 L584.09,194.94 L591.20,195.25 L598.32,195.56 L605.43,195.87 L612.54,196.18 L619.66,196.47 L626.77,196.76 L633.89,197.04 L641.00,197.30" stroke="#ff0000"/><path d="M79.00,332.29 L86.11,326.74 L93.23,321.02 L100.34,315.19 L107.46,309.30 L114.57,303.39 L121.68,297.51 L128.80,291.76 L135.91,286.28 L143.03,281.22 L150.14,276.58 L157.25,272.19 L164.37,267.89 L171.48,263.66 L178.59,259.53 L185.71,255.56 L192.82,251.80 L199.94,248.29 L207.05,245.06 L214.16,242.09 L221.28,239.34 L228.39,236.79 L235.51,234.42 L242.62,232.23 L249.73,230.21 L256.85,228.35 L263.96,226.64 L271.08,225.08 L278.19,223.66 L285.30,222.37 L292.42,221.20 L299.53,220.14 L306.65,219.19 L313.76,218.34 L320.87,217.58 L327.99,216.91 L335.10,216.31 L342.22,215.78 L349.33,215.32 L356.44,214.90 L363.56,214.54 L370.67,214.22 L377.78,213.95 L384.90,213.73 L392.01,213.55 L399.13,213.42 L406.24,213.32 L413.35,213.26 L420.47,213.23 L427.58,213.24 L434.70,213.29 L441.81,213.36 L448.92,213.46 L456.04,213.59 L463.15,213.75 L470.27,213.92 L477.38,214.12 L484.49,214.34 L491.61,214.58 L498.72,214.83 L505.84,215.10 L512.95,215.38 L520.06,215.67 L527.18,215.97 L534.29,216.28 L541.41,216.59 L548.52,216.90 L555.63,217.22 L562.75,217.54 L569.86,217.85 L576.97,218.16 L584.09,218.46 L591.20,218.76 L598.32,219.05 L605.43,219.32 L612.54,219.59 L619.66,219.84 L626.77,220.07 L633.89,220.28 L641.00,220.47" stroke="#ff0000" stroke-dasharray="8.75,3.97"/><path d="M79,333.2 L474.74,6.00" stroke="#000"/><path d="M79.00,347.07 L86.11,341.59 L93.23,335.93 L100.34,330.16 L107.46,324.39 L114.57,318.68 L121.68,313.13 L128.80,307.82 L135.91,302.78 L143.03,298.00 L150.14,293.48 L157.25,289.20 L164.37,285.14 L171.48,281.30 L178.59,277.65 L185.71,274.17 L192.82,270.83 L199.94,267.64 L207.05,264.55 L214.16,261.56 L221.28,258.67 L228.39,255.87 L235.51,253.17 L242.62,250.55 L249.73,248.02 L256.85,245.58 L263.96,243.23 L271.08,240.95 L278.19,238.76 L285.30,236.64 L292.42,234.60 L299.53,232.63 L306.65,230.74 L313.76,228.91 L320.87,227.16 L327.99,225.47 L335.10,223.84 L342.22,222.28 L349.33,220.77 L356.44,219.33 L363.56,217.94 L370.67,216.60 L377.78,215.32 L384.90,214.09 L392.01,212.91 L399.13,211.77 L406.24,210.69 L413.35,209.65 L420.47,208.66 L427.58,207.71 L434.70,206.80 L441.81,205.93 L448.92,205.10 L456.04,204.31 L463.15,203.56 L470.27,202.84 L477.38,202.15 L484.49,201.49 L491.61,200.87 L498.72,200.28 L505.84,199.71 L512.95,199.17 L520.06,198.66 L527.18,198.17 L534.29,197.70 L541.41,197.25 L548.52,196.82 L555.63,196.41 L562.75,196.02 L569.86,195.65 L576.97,195.28 L584.09,194.93 L591.20,194.59 L598.32,194.27 L605.43,193.95 L612.54,193.63 L619.66,193.33 L626.77,193.02 L633.89,192.72 L641.00,192.42" stroke="#9400d3"/><path d="M79.00,340.68 L86.11,335.82 L93.23,331.43 L100.34,327.09 L107.46,322.40 L114.57,317.35 L121.68,312.34 L128.80,307.47 L135.91,302.75 L143.03,298.18 L150.14,293.78 L157.25,289.55 L164.37,285.51 L171.48,281.64 L178.59,277.95 L185.71,274.42 L192.82,271.05 L199.94,267.83 L207.05,264.75 L214.16,261.81 L221.28,259.01 L228.39,256.33 L235.51,253.77 L242.62,251.32 L249.73,248.98 L256.85,246.73 L263.96,244.58 L271.08,242.52 L278.19,240.54 L285.30,238.63 L292.42,236.78 L299.53,235.00 L306.65,233.27 L313.76,231.59 L320.87,229.96 L327.99,228.38 L335.10,226.86 L342.22,225.40 L349.33,223.99 L356.44,222.65 L363.56,221.36 L370.67,220.15 L377.78,218.99 L384.90,217.91 L392.01,216.89 L399.13,215.93 L406.24,215.04 L413.35,214.20 L420.47,213.42 L427.58,212.69 L434.70,212.02 L441.81,211.39 L448.92,210.81 L456.04,210.28 L463.15,209.78 L470.27,209.33 L477.38,208.91 L484.49,208.53 L491.61,208.19 L498.72,207.87 L505.84,207.58 L512.95,207.32 L520.06,207.08 L527.18,206.87 L534.29,206.67 L541.41,206.49 L548.52,206.32 L555.63,206.17 L562.75,206.02 L569.86,205.89 L576.97,205.75 L584.09,205.63 L591.20,205.50 L598.32,205.37 L605.43,205.23 L612.54,205.09 L619.66,204.95 L626.77,204.79 L633.89,204.61 L641.00,204.43" stroke="#9400d3" stroke-dasharray="8.75,3.97"/><path d="M79,271.5 L641.0,271.5" stroke="#000" stroke-width="1.3" stroke-dasharray="6.75,3.42"/></g><g stroke="#000" stroke-width="1.5" fill="none"><path d="M78.90,402.6 v-16.8M78.90,9.0 v16.8"/><path d="M135.11,402.6 v-8.3M135.11,9.0 v8.3"/><path d="M191.32,402.6 v-16.8M191.32,9.0 v16.8"/><path d="M247.53,402.6 v-8.3M247.53,9.0 v8.3"/><path d="M303.74,402.6 v-16.8M303.74,9.0 v16.8"/><path d="M359.95,402.6 v-8.3M359.95,9.0 v8.3"/><path d="M416.16,402.6 v-16.8M416.16,9.0 v16.8"/><path d="M472.37,402.6 v-8.3M472.37,9.0 v8.3"/><path d="M528.58,402.6 v-16.8M528.58,9.0 v16.8"/><path d="M584.79,402.6 v-8.3M584.79,9.0 v8.3"/><path d="M641.00,402.6 v-16.8M641.00,9.0 v16.8"/><path d="M78.9,402.60 h16.8M641.0,402.60 h-16.8"/><path d="M78.9,369.80 h8.3M641.0,369.80 h-8.3"/><path d="M78.9,337.00 h16.8M641.0,337.00 h-16.8"/><path d="M78.9,304.20 h8.3M641.0,304.20 h-8.3"/><path d="M78.9,271.40 h16.8M641.0,271.40 h-16.8"/><path d="M78.9,238.60 h8.3M641.0,238.60 h-8.3"/><path d="M78.9,205.80 h16.8M641.0,205.80 h-16.8"/><path d="M78.9,173.00 h8.3M641.0,173.00 h-8.3"/><path d="M78.9,140.20 h16.8M641.0,140.20 h-16.8"/><path d="M78.9,107.40 h8.3M641.0,107.40 h-8.3"/><path d="M78.9,74.60 h16.8M641.0,74.60 h-16.8"/><path d="M78.9,41.80 h8.3M641.0,41.80 h-8.3"/><path d="M78.9,9.00 h16.8M641.0,9.00 h-16.8"/><rect x="78.9" y="9.0" width="562.1" height="393.6"/></g><rect x="84.5" y="14.8" width="205" height="116" fill="#fff" stroke="#000" stroke-width="1.1"/><path d="M90.6,27.60 h22.4" stroke="#000" stroke-width="1.5" fill="none"/><text transform="translate(125.00,35.40) scale(0.992,1.06)" font-size="22" text-anchor="start" class="t">D1</text><path d="M90.6,50.20 h22.4" stroke="#ff0000" stroke-width="1.5" fill="none"/><text transform="translate(124.50,56.80) scale(0.992,1.06)" font-size="22" text-anchor="start" class="t">D2, Λ = 500 MeV</text><path d="M90.6,74.10 h22.4" stroke="#ff0000" stroke-width="1.5" stroke-dasharray="8.75,3.97" fill="none"/><text transform="translate(124.50,80.90) scale(0.992,1.06)" font-size="22" text-anchor="start" class="t">D2, Λ = 400 MeV</text><path d="M90.6,96.90 h22.4" stroke="#9400d3" stroke-width="1.5" fill="none"/><text transform="translate(124.10,104.00) scale(0.992,1.06)" font-size="22" text-anchor="start" class="t">Fit 1</text><path d="M90.6,117.90 h22.4" stroke="#9400d3" stroke-width="1.5" stroke-dasharray="8.75,3.97" fill="none"/><text transform="translate(124.10,125.00) scale(0.992,1.06)" font-size="22" text-anchor="start" class="t">Fit 2</text><text transform="translate(78.90,423.30) scale(1,1.06)" font-size="22" text-anchor="middle" class="t">0</text><text transform="translate(191.32,423.30) scale(1,1.06)" font-size="22" text-anchor="middle" class="t">200</text><text transform="translate(303.74,423.30) scale(1,1.06)" font-size="22" text-anchor="middle" class="t">400</text><text transform="translate(416.16,423.30) scale(1,1.06)" font-size="22" text-anchor="middle" class="t">600</text><text transform="translate(528.58,423.30) scale(1,1.06)" font-size="22" text-anchor="middle" class="t">800</text><text transform="translate(641.60,423.30) scale(1,1.06)" font-size="22" text-anchor="middle" class="t">1000</text><text transform="translate(74.30,410.40) scale(1,1.06)" font-size="22" text-anchor="end" class="t">-100</text><text transform="translate(74.30,344.20) scale(1,1.06)" font-size="22" text-anchor="end" class="t">-50</text><text transform="translate(74.30,279.00) scale(1,1.06)" font-size="22" text-anchor="end" class="t">0</text><text transform="translate(74.30,213.80) scale(1,1.06)" font-size="22" text-anchor="end" class="t">50</text><text transform="translate(74.30,147.80) scale(1,1.06)" font-size="22" text-anchor="end" class="t">100</text><text transform="translate(74.30,82.90) scale(1,1.06)" font-size="22" text-anchor="end" class="t">150</text><text transform="translate(74.30,16.30) scale(1,1.06)" font-size="22" text-anchor="end" class="t">200</text><text transform="translate(311.00,443.60) scale(1,1.06)" font-size="22" text-anchor="start" class="t">E<tspan dy="8.2" dx="0.4" font-size="16.2">kin</tspan><tspan dy="-8.2"> [MeV]</tspan></text><text transform="translate(16.20,255.10) rotate(-90) scale(1,1.06)" font-size="22" text-anchor="start" class="t">U<tspan dy="8.2" dx="-1" font-size="16.2">opt</tspan><tspan dy="-8.2"> [MeV]</tspan></text></svg>
</body></html>
